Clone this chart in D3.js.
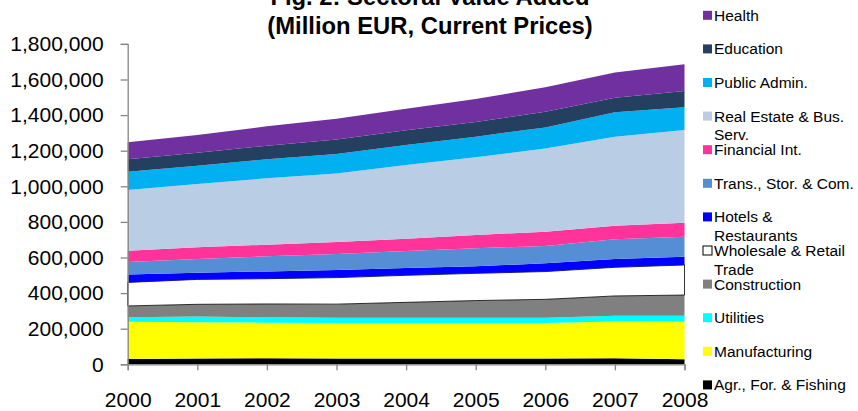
<!DOCTYPE html>
<html>
<head>
<meta charset="utf-8">
<script src="https://cdn.jsdelivr.net/npm/d3@7"></script>
<style>
  html, body { margin: 0; padding: 0; background: #fff; }
  svg { display: block; font-family: "Liberation Sans", Arial, sans-serif; }
</style>
</head>
<body>
<svg id="chart" width="858" height="411"></svg>
<script>
// ---- Data (million EUR, current prices) ----
const years = [2000, 2001, 2002, 2003, 2004, 2005, 2006, 2007, 2008];
const agriculture   = [30000, 33000, 34000, 32000, 32000, 32000, 32000, 34000, 28000];
const manufacturing = [209000, 203000, 200000, 200000, 200000, 200000, 200000, 206000, 211000];
const utilities     = [25000, 32000, 30000, 29000, 30000, 30000, 30000, 33000, 34000];
const construction  = [64000, 69000, 75000, 77000, 86000, 96000, 103000, 111000, 116000];
const wholesale     = [132000, 140000, 142000, 149000, 152000, 153000, 156000, 161000, 169000];
const hotels        = [45000, 38000, 41000, 43000, 41000, 40000, 46000, 47000, 46000];
const transport     = [70000, 77000, 85000, 89000, 96000, 101000, 98000, 110000, 113000];
const financial     = [63000, 65000, 65000, 68000, 69000, 75000, 80000, 77000, 78000];
const realEstate    = [341000, 356000, 373000, 385000, 414000, 436000, 468000, 500000, 521000];
const publicAdmin   = [103000, 103000, 107000, 110000, 112000, 116000, 118000, 137000, 128000];
const education     = [70000, 73000, 76000, 81000, 83000, 82000, 88000, 82000, 91000];
const health        = [95000, 99000, 109000, 117000, 121000, 130000, 137000, 141000, 150000];

// bottom-to-top stacking order
const seriesKeys = ["agr", "manu", "util", "constr", "whole", "hotels", "trans", "fin", "re", "pa", "edu", "health"];
const seriesValues = [agriculture, manufacturing, utilities, construction, wholesale, hotels, transport, financial, realEstate, publicAdmin, education, health];
const seriesLabels = [
  ["Agr., For. & Fishing"],
  ["Manufacturing"],
  ["Utilities"],
  ["Construction"],
  ["Wholesale & Retail", "Trade"],
  ["Hotels &", "Restaurants"],
  ["Trans., Stor. & Com."],
  ["Financial Int."],
  ["Real Estate & Bus.", "Serv."],
  ["Public Admin."],
  ["Education"],
  ["Health"]
];
const seriesColors = ["#000000", "#FFFF00", "#00FFFF", "#808080", "#FFFFFF", "#0000FF",
                      "#558ED5", "#FF3399", "#B9CDE5", "#00B0F0", "#243F60", "#7030A0"];
const yTicks = [0, 200000, 400000, 600000, 800000, 1000000, 1200000, 1400000, 1600000, 1800000];
const titleLines = ["Fig. 2: Sectoral Value Added", "(Million EUR, Current Prices)"];

// ---- Build table ----
const table = years.map((yr, i) => {
  const row = { year: yr };
  seriesKeys.forEach((k, j) => { row[k] = seriesValues[j][i]; });
  return row;
});

const svg = d3.select("#chart");
const plot = { left: 127.7, right: 684.5, top: 43.9, bottom: 364.3 };

const x = d3.scaleLinear().domain([years[0], years[years.length - 1]]).range([plot.left, plot.right]);
const y = d3.scaleLinear().domain([0, 1800000]).range([plot.bottom, plot.top]);

const stack = d3.stack().keys(seriesKeys);
const layers = stack(table);

const area = d3.area()
  .x(d => x(d.data.year))
  .y0(d => y(d[0]))
  .y1(d => y(d[1]))
  .curve(d3.curveLinear);

svg.append("g").selectAll("path")
  .data(layers)
  .join("path")
  .attr("d", area)
  .attr("fill", (d, i) => seriesColors[i])
  .attr("stroke", (d, i) => seriesKeys[i] === "whole" ? "#000" : "none")
  .attr("stroke-width", (d, i) => seriesKeys[i] === "whole" ? 0.8 : 0);

// ---- Axes ----
const axisColor = "#868686";
const yAxis = d3.axisLeft(y).tickValues(yTicks).tickFormat(d3.format(",")).tickSizeOuter(0).tickSize(7).tickPadding(17);
const gy = svg.append("g").attr("transform", `translate(${plot.left},0)`).call(yAxis);
gy.select(".domain").attr("stroke", axisColor).attr("stroke-width", 1.3);
gy.selectAll(".tick line").attr("stroke", axisColor).attr("stroke-width", 1.3);
gy.selectAll(".tick text").attr("fill", "#000").attr("font-size", "21px")
  .attr("font-family", "'Liberation Sans', Arial, sans-serif");

const xAxis = d3.axisBottom(x).tickValues(years).tickFormat(d3.format("d")).tickSizeOuter(0).tickSize(6).tickPadding(22);
const gx = svg.append("g").attr("transform", `translate(0,${plot.bottom})`).call(xAxis);
gx.select(".domain").attr("stroke", axisColor).attr("stroke-width", 1.3);
gx.selectAll(".tick line").attr("stroke", axisColor).attr("stroke-width", 1.3);
gx.selectAll(".tick text").attr("fill", "#000").attr("font-size", "21px")
  .attr("font-family", "'Liberation Sans', Arial, sans-serif");

// ---- Title ----
svg.append("g").selectAll("text")
  .data(titleLines)
  .join("text")
  .attr("x", 430)
  .attr("y", (d, i) => 5 + i * 28.5)
  .attr("text-anchor", "middle")
  .attr("font-size", "23.8px")
  .attr("font-weight", "bold")
  .attr("fill", "#000")
  .text(d => d);

// ---- Legend (top to bottom: reverse of stacking) ----
const legendOrder = d3.range(seriesKeys.length).reverse();
const lg = svg.append("g");
legendOrder.forEach((si, li) => {
  const cy = 15.3 + li * 33.6;
  lg.append("rect")
    .attr("x", 703).attr("y", cy - 4.5)
    .attr("width", 9).attr("height", 9)
    .attr("fill", seriesColors[si])
    .attr("stroke", seriesKeys[si] === "whole" ? "#000" : "none")
    .attr("stroke-width", 1);
  const t = lg.append("text")
    .attr("x", 714).attr("y", cy + 5.5)
    .attr("font-size", "15.5px")
    .attr("fill", "#000");
  seriesLabels[si].forEach((line, k) => {
    t.append("tspan").attr("x", 714).attr("dy", k === 0 ? 0 : 18.6).text(line);
  });
});
</script>
</body>
</html>
